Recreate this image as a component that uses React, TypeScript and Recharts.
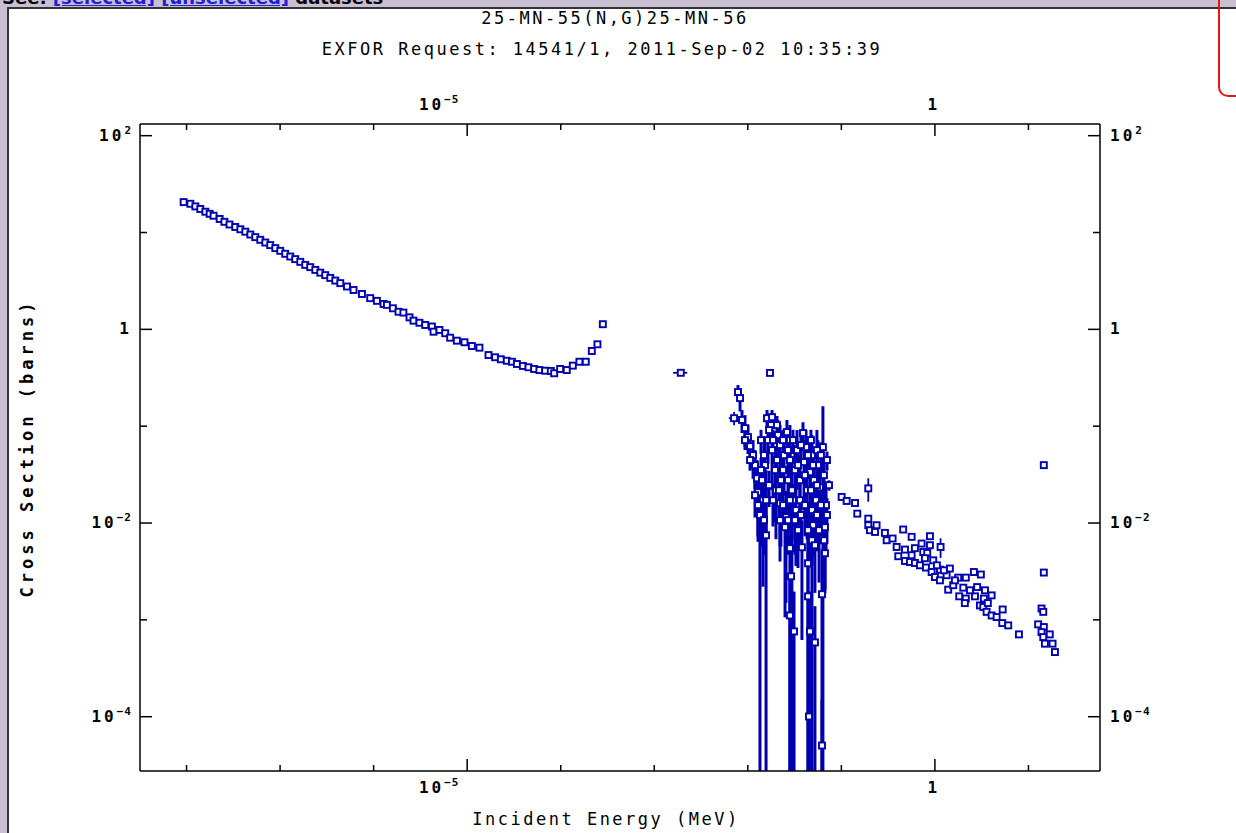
import React from 'react'
import { ScatterChart, Scatter, XAxis, YAxis, ErrorBar } from 'recharts'

const W = 1236
const H = 833
const BLUE = '#0000b0'
const MONO = "'DejaVu Sans Mono', 'Liberation Mono', monospace"

// incident energy in MeV, cross section in barns

// thermal / 1/v region
const thermalEnergy = [
  9.31e-9, 1.099e-8, 1.242e-8, 1.403e-8, 1.589e-8, 1.766e-8, 1.945e-8, 2.26e-8, 2.54e-8, 2.88e-8,
  3.32e-8, 3.76e-8, 4.25e-8, 4.81e-8, 5.43e-8, 6.14e-8, 6.95e-8, 7.85e-8, 8.89e-8, 1.005e-7,
  1.135e-7, 1.285e-7, 1.452e-7, 1.644e-7, 1.858e-7, 2.1e-7, 2.38e-7, 2.69e-7, 3.04e-7, 3.44e-7,
  3.89e-7, 4.4e-7, 5.19e-7, 6.1e-7, 7.5e-7, 9.2e-7, 1.084e-6, 1.276e-6, 1.387e-6, 1.607e-6,
  1.845e-6, 2.08e-6, 2.42e-6, 2.67e-6, 3.09e-6, 3.56e-6, 4.2e-6, 4.37e-6, 5.06e-6, 5.82e-6,
  6.58e-6, 7.76e-6, 9.36e-6, 1.122e-5, 1.352e-5, 1.69e-5, 1.99e-5, 2.29e-5, 2.65e-5, 3.01e-5,
  3.4e-5, 3.94e-5, 4.52e-5, 5.2e-5, 5.92e-5, 6.81e-5, 7.83e-5, 8.51e-5, 9.86e-5, 1.161e-4,
  1.346e-4, 1.585e-4, 1.853e-4, 2.15e-4, 2.47e-4, 2.82e-4,
]
const thermalSigma = [
  20.6, 19.8, 18.6, 17.5, 16.4, 15.6, 14.9, 13.8, 12.9, 12.1,
  11.4, 10.8, 10.2, 9.53, 8.96, 8.41, 7.88, 7.41, 6.9, 6.47,
  6.03, 5.65, 5.31, 4.98, 4.63, 4.39, 4.11, 3.85, 3.63, 3.4,
  3.19, 3.0, 2.77, 2.55, 2.32, 2.1, 1.97, 1.83, 1.79, 1.65,
  1.52, 1.49, 1.33, 1.23, 1.17, 1.11, 1.07, 0.946, 0.986, 0.912,
  0.82, 0.764, 0.736, 0.673, 0.647, 0.543, 0.515, 0.491, 0.474, 0.463,
  0.439, 0.419, 0.406, 0.39, 0.38, 0.374, 0.372, 0.352, 0.39, 0.38,
  0.422, 0.463, 0.463, 0.598, 0.701, 1.13,
]

// points with energy uncertainty
const xerrEnergy = [1.92e-3, 7.13e-3]
const xerrSigma = [0.356, 0.121]
const xerrDE = [3.3e-4, 8.7e-4]
const xerrDS = [0, 0.019]

// resolved resonance region
const resEnergy = [
  1.726e-2, 7.85e-3, 8.26e-3, 8.67e-3, 9.33e-3, 1.005e-2, 1.057e-2, 1.138e-2, 1.194e-2, 1.253e-2,
  1.349e-2, 1.285e-2, 1.452e-2, 1.567e-2, 1.528e-2, 1.603e-2, 1.816e-2, 1.77e-2, 1.644e-2, 1.816e-2,
  1.954e-2, 2.1e-2, 2.21e-2, 2.26e-2, 2.21e-2, 2.44e-2, 2.62e-2, 2.56e-2, 2.5e-2, 2.82e-2,
  2.82e-2, 2.96e-2, 2.82e-2, 2.9e-2, 2.82e-2, 3.12e-2, 3.19e-2, 3.36e-2, 3.61e-2, 3.79e-2,
  3.89e-2, 3.99e-2, 4.19e-2, 4.3e-2, 4.4e-2, 4.4e-2, 4.62e-2, 4.62e-2, 4.85e-2, 4.85e-2,
  5.09e-2, 5.22e-2, 4.51e-2, 5.36e-2, 5.62e-2, 5.77e-2, 5.9e-2, 6.21e-2, 6.21e-2, 6.35e-2,
  6.68e-2, 6.68e-2, 6.86e-2, 7.38e-2, 2.0e-2, 3.27e-2, 5.48e-2, 1.419e-2, 4.85e-2, 3.61e-2,
]
const resSigma = [
  0.355, 0.225, 0.195, 0.116, 0.0955, 0.0771, 0.0622, 0.0502, 0.0396, 0.029,
  0.0121, 0.0208, 0.0172, 0.00748, 0.0396, 0.121, 0.124, 0.1026, 0.0718, 0.0566,
  0.0352, 0.0809, 0.0638, 0.0277, 0.016, 0.0502, 0.0869, 0.0115, 0.00906, 0.0718,
  0.0447, 0.0218, 0.0055, 0.00282, 0.00111, 7.6e-4, 0.0352, 0.0566, 0.0277, 0.00562,
  0.0849, 0.0426, 0.0608, 0.0218, 0.00384, 0.00175, 0.0335, 7.6e-4, 0.0502, 0.0136,
  0.0277, 5.85e-4, 1.005e-4, 0.0172, 0.0396, 0.00843, 0.0234, 0.00184, 5.04e-5, 0.0608,
  0.00906, 0.00488, 0.0153, 0.0246, 0.0218, 0.0136, 0.0566, 0.0277, 0.00664, 0.0172,
]
const resErr = [
  0, 0.041, 0.053, 0.031, 0.0345, 0.0255, 0.0187, 0.0216, 0.017, 0.0157,
  0.0156, 0.0144, 0.015, 0.0277, 0.032, 0.026, 0.023, 0.0274, 0.031, 0.0346,
  0.025, 0.035, 0.039, 0.022, 0.012, 0.031, 0.029, 0.01, 0.008, 0.031,
  0.027, 0.023, 0.0075, 0.004, 0.0016, 0.0012, 0.0286, 0.0346, 0.0225, 0.005,
  0.025, 0.029, 0.03, 0.015, 0.0069, 0.003, 0.03, 0.0012, 0.031, 0.01,
  0.02, 8e-4, 2e-4, 0.012, 0.032, 0.006, 0.015, 0.0035, 1e-4, 0.1,
  0.007, 0.003, 0.01, 0.003, 0.015, 0.01, 0.035, 0.022, 0.01, 0.012,
]

// second resonance set, packed inside the same band
const res2Energy = [
  1.285e-2, 1.384e-2, 1.384e-2, 1.489e-2, 1.489e-2, 1.687e-2, 1.687e-2, 1.858e-2, 1.858e-2, 2.05e-2,
  2.05e-2, 2.15e-2, 2.38e-2, 2.38e-2, 2.38e-2, 2.69e-2, 2.69e-2, 2.69e-2, 3.04e-2, 3.04e-2,
  3.44e-2, 3.44e-2, 3.7e-2, 3.7e-2, 4.08e-2, 4.08e-2, 4.73e-2, 4.73e-2, 4.98e-2, 4.98e-2,
  5.48e-2, 5.48e-2, 6.05e-2, 6.05e-2, 6.52e-2, 6.52e-2, 7.02e-2, 7.02e-2, 1.194e-2, 1.567e-2,
  2.21e-2, 3.19e-2, 4.4e-2, 5.22e-2, 2.82e-2, 4.4e-2, 9.33e-3, 1.057e-2,
]
const res2Sigma = [
  0.0153, 0.0352, 0.0718, 0.0502, 0.0107, 0.0912, 0.0246, 0.0718, 0.0172, 0.1026,
  0.0447, 0.0218, 0.0718, 0.0352, 0.0153, 0.0566, 0.0277, 0.0107, 0.0718, 0.0172,
  0.0396, 0.00843, 0.0638, 0.0121, 0.0312, 0.0153, 0.0718, 0.0218, 0.0396, 0.00949,
  0.0246, 0.0121, 0.0502, 0.0153, 0.0312, 0.00664, 0.0447, 0.0121, 0.0194, 0.0172,
  0.0107, 0.0107, 0.00843, 0.0059, 0.0172, 0.0502, 0.0718, 0.0447,
]
const res2Err = [
  0.008, 0.012, 0.02, 0.015, 0.006, 0.025, 0.01, 0.02, 0.008, 0.025,
  0.015, 0.01, 0.02, 0.012, 0.007, 0.018, 0.012, 0.006, 0.02, 0.008,
  0.015, 0.005, 0.02, 0.006, 0.012, 0.008, 0.02, 0.01, 0.015, 0.005,
  0.012, 0.007, 0.018, 0.008, 0.014, 0.004, 0.01, 0.006, 0.008, 0.01,
  0.005, 0.006, 0.004, 0.004, 0.009, 0.02, 0.015, 0.01,
]

// fast neutron region
const fastEnergy = [
  0.1007, 0.114, 0.14, 0.148, 0.194, 0.194, 0.202, 0.238, 0.229,
  0.292, 0.305, 0.353, 0.458, 0.39, 0.479, 0.406, 0.479, 0.564, 0.564,
  0.541, 0.611, 0.692, 0.721, 0.75, 0.885, 0.885, 0.828, 0.959, 0.802,
  0.923, 1.132, 1.0, 1.132, 1.445, 1.334, 1.387, 1.774, 1.57,
  2.14, 2.01, 1.82, 2.14, 2.09, 2.61, 3.1, 2.83, 2.68, 3.03,
  3.43, 3.34, 4.04, 3.29, 3.57, 4.04, 5.3, 4.57, 5.25, 6.08, 7.91,
  0.611, 0.782, 1.05, 1.247, 1.637, 2.37, 3.68,
]
const fastSigma = [
  0.0186, 0.0169, 0.0161, 0.0125, 0.0111, 0.00949, 0.00843, 0.00949, 0.00809,
  0.00791, 0.00664, 0.00692, 0.00857, 0.00566, 0.00532, 0.00454, 0.00406, 0.0072, 0.00465,
  0.00396, 0.00387, 0.00366, 0.00614, 0.00502, 0.00731, 0.0059, 0.00491, 0.00412, 0.00347,
  0.00312, 0.0033, 0.00277, 0.00256, 0.00339, 0.00289, 0.00205, 0.00273, 0.00228,
  0.00273, 0.00215, 0.00175, 0.00166, 0.00149, 0.00312, 0.00294, 0.00218, 0.00175, 0.00141,
  0.00202, 0.00166, 0.00179, 0.00136, 0.00121, 0.00111, 0.00128, 0.00107, 9.27e-4, 8.77e-4, 7.08e-4,
  0.0055, 0.00433, 0.00366, 0.00325, 0.00256, 0.00202, 0.00149,
]

// fast points drawn with an error bar
const fastBarEnergy = [0.194, 1.15]
const fastBarSigma = [0.0228, 0.00566]
const fastBarErr = [0.0062, 0.0013]

// 14 MeV points
const highEnergy = [14.6, 14.6, 13.8, 14.4, 12.7, 14.6, 13.8, 14.4, 16.9, 15.0, 18.1, 19.2]
const highSigma = [0.0396, 0.00308, 0.00131, 0.00121, 8.99e-4, 8.43e-4, 7.48e-4, 6.64e-4, 7.08e-4, 5.68e-4, 5.68e-4, 4.65e-4]

const xTicks = [1e-8, 1e-7, 1e-6, 1e-5, 1e-4, 1e-3, 1e-2, 1e-1, 1, 10]
const yTicks = [1e-4, 1e-3, 1e-2, 1e-1, 1, 10, 100]
const xDomain = [3.18e-9, 58.2]
const yDomain = [2.75e-5, 132]

type Row = { e: number; s: number; dy: number[]; dx: number[] }

function toRows(E: number[], S: number[], D?: number[], DX?: number[]): Row[] {
  return E.map((e, i) => {
    const s = S[i]
    const d = D ? D[i] : 0
    const dx = DX ? DX[i] : 0
    // a lower bound at or below zero can't sit on a log axis: stop it at the frame
    const lo = d >= s || s - d < yDomain[0] ? s - yDomain[0] : d
    return { e, s, dy: [lo, d], dx: [dx, dx] }
  })
}

const thermalRows = toRows(thermalEnergy, thermalSigma)
const xerrRows = toRows(xerrEnergy, xerrSigma, xerrDS, xerrDE)
const resRows = toRows(resEnergy, resSigma, resErr)
const res2Rows = toRows(res2Energy, res2Sigma, res2Err)
const fastRows = toRows(fastEnergy, fastSigma)
const fastBarRows = toRows(fastBarEnergy, fastBarSigma, fastBarErr)
const highRows = toRows(highEnergy, highSigma)

const Box = (p: any) => {
  if (p.cx == null || p.cy == null) return <g />
  return <rect x={p.cx - 3} y={p.cy - 3} width={6} height={6} fill="#fff" stroke={BLUE} strokeWidth={1.9} />
}

function Pow({ x, y, exp, anchor }: { x: number; y: number; exp: number; anchor: 'start' | 'middle' | 'end' }) {
  return (
    <text x={x} y={y} textAnchor={anchor} fontFamily={MONO} fontSize={16} fontWeight="bold" letterSpacing={3} fill="#000">
      {exp === 0 ? '1' : (
        <>
          10
          <tspan dy={-7} fontSize={11} letterSpacing={1}>
            {exp < 0 ? '\u2212' + -exp : String(exp)}
          </tspan>
        </>
      )}
    </text>
  )
}

const xTick = (side: 'top' | 'bottom') => (p: any) => {
  const exp = Math.round(Math.log10(p.payload.value))
  const major = exp % 5 === 0
  const len = major ? 12 : 6
  const y2 = side === 'top' ? p.y + len : p.y - len
  const ly = side === 'top' ? p.y - 14 : p.y + 22
  return (
    <g>
      <line x1={p.x} x2={p.x} y1={p.y} y2={y2} stroke="#000" strokeWidth={1.5} />
      {major && <Pow x={exp === 0 ? p.x - 1 : p.x - 28} y={ly} exp={exp} anchor="middle" />}
    </g>
  )
}

const yTick = (side: 'left' | 'right') => (p: any) => {
  const exp = Math.round(Math.log10(p.payload.value))
  const major = exp % 2 === 0
  const len = major ? 12 : 7
  const x2 = side === 'left' ? p.x + len : p.x - len
  return (
    <g>
      <line x1={p.x} x2={x2} y1={p.y} y2={p.y} stroke="#000" strokeWidth={1.5} />
      {major && (
        <Pow
          x={side === 'left' ? p.x - 8 : p.x + 10}
          y={p.y + 5}
          exp={exp}
          anchor={side === 'left' ? 'end' : 'start'}
        />
      )}
    </g>
  )
}

const frame = { stroke: '#000', strokeWidth: 1.5 }

const textStyle: React.CSSProperties = {
  position: 'absolute',
  width: 600,
  textAlign: 'center',
  fontFamily: MONO,
  fontSize: 17,
  lineHeight: '20px',
  letterSpacing: 2.5,
  color: '#000',
  whiteSpace: 'nowrap',
}

export default function App() {
  return (
    <div style={{ position: 'absolute', left: 0, top: 0, width: W, height: H, background: '#c8c0d2', overflow: 'hidden' }}>
      <div style={{ position: 'absolute', left: 2, top: -11, fontFamily: "'DejaVu Sans', sans-serif", fontSize: 18, fontWeight: 'bold', lineHeight: '18px', whiteSpace: 'nowrap' }}>
        See: <span style={{ color: '#2020d0', textDecoration: 'underline' }}>[selected]</span>{' '}
        <span style={{ color: '#2020d0', textDecoration: 'underline' }}>[unselected]</span> datasets
      </div>
      <div style={{ position: 'absolute', left: 7, top: 7, right: 0, bottom: 0, background: '#fff', borderLeft: '2px solid #333', borderTop: '2px solid #333' }} />
      <div style={{ position: 'absolute', left: 1218, top: -20, width: 60, height: 113, border: '2px solid #e01818', borderRadius: 10 }} />

      <div style={{ ...textStyle, left: 315, top: 8 }}>25-MN-55(N,G)25-MN-56</div>
      <div style={{ ...textStyle, left: 302, top: 39 }}>EXFOR Request: 14541/1, 2011-Sep-02 10:35:39</div>
      <div style={{ ...textStyle, left: 306, top: 809 }}>Incident Energy (MeV)</div>
      <div
        style={{
          ...textStyle,
          left: 27 - 300,
          top: 438,
          fontWeight: 'bold',
          letterSpacing: 4,
          transform: 'rotate(-90deg)',
          transformOrigin: '300px 10px',
        }}
      >
        Cross Section (barns)
      </div>

      <div style={{ position: 'absolute', left: 0, top: 0 }}>
        <ScatterChart width={W} height={H} margin={{ top: 84, right: 76, bottom: 22, left: 80 }}>
          <XAxis
            xAxisId="b"
            orientation="bottom"
            type="number"
            dataKey="e"
            scale="log"
            domain={xDomain}
            allowDataOverflow
            ticks={xTicks}
            interval={0}
            height={40}
            tickSize={0}
            tickMargin={0}
            tickLine={false}
            tick={xTick('bottom')}
            axisLine={frame}
          />
          <XAxis
            xAxisId="t"
            orientation="top"
            type="number"
            dataKey="e"
            scale="log"
            domain={xDomain}
            allowDataOverflow
            ticks={xTicks}
            interval={0}
            height={40}
            tickSize={0}
            tickMargin={0}
            tickLine={false}
            tick={xTick('top')}
            axisLine={frame}
          />
          <YAxis
            yAxisId="l"
            orientation="left"
            type="number"
            dataKey="s"
            scale="log"
            domain={yDomain}
            allowDataOverflow
            ticks={yTicks}
            interval={0}
            width={60}
            tickSize={0}
            tickMargin={0}
            tickLine={false}
            tick={yTick('left')}
            axisLine={frame}
          />
          <YAxis
            yAxisId="r"
            orientation="right"
            type="number"
            dataKey="s"
            scale="log"
            domain={yDomain}
            allowDataOverflow
            ticks={yTicks}
            interval={0}
            width={60}
            tickSize={0}
            tickMargin={0}
            tickLine={false}
            tick={yTick('right')}
            axisLine={frame}
          />

          <Scatter data={resRows} xAxisId="b" yAxisId="l" shape={Box} isAnimationActive={false}>
            <ErrorBar dataKey="dy" direction="y" width={0} stroke={BLUE} strokeWidth={3} />
          </Scatter>
          <Scatter data={res2Rows} xAxisId="b" yAxisId="l" shape={Box} isAnimationActive={false}>
            <ErrorBar dataKey="dy" direction="y" width={0} stroke={BLUE} strokeWidth={3} />
          </Scatter>
          <Scatter data={xerrRows} xAxisId="b" yAxisId="l" shape={Box} isAnimationActive={false}>
            <ErrorBar dataKey="dy" direction="y" width={0} stroke={BLUE} strokeWidth={1.8} />
            <ErrorBar dataKey="dx" direction="x" width={0} stroke={BLUE} strokeWidth={1.8} />
          </Scatter>
          <Scatter data={thermalRows} xAxisId="b" yAxisId="l" shape={Box} isAnimationActive={false} />
          <Scatter data={fastRows} xAxisId="b" yAxisId="l" shape={Box} isAnimationActive={false} />
          <Scatter data={fastBarRows} xAxisId="b" yAxisId="l" shape={Box} isAnimationActive={false}>
            <ErrorBar dataKey="dy" direction="y" width={0} stroke={BLUE} strokeWidth={1.8} />
          </Scatter>
          <Scatter data={highRows} xAxisId="b" yAxisId="l" shape={Box} isAnimationActive={false} />
        </ScatterChart>
      </div>
    </div>
  )
}
